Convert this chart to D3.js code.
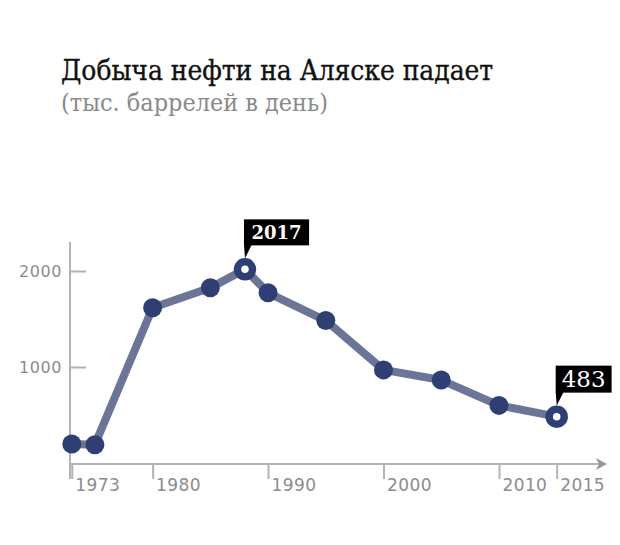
<!DOCTYPE html>
<html><head><meta charset="utf-8">
<script src="https://cdn.jsdelivr.net/npm/d3@7"></script>
<style>
body{margin:0;background:#fff;}
svg{display:block;}
</style></head>
<body>
<svg id="chart" width="620" height="545"></svg>
<script>
const title = "Добыча нефти на Аляске падает";
const subtitle = "(тыс. баррелей в день)";
const years = [1973, 1975, 1980, 1985, 1988, 1990, 1995, 2000, 2005, 2010, 2015];
const production = [198, 191, 1617, 1825, 2017, 1773, 1484, 970, 864, 600, 483];
const xTicks = [1973, 1980, 1990, 2000, 2010, 2015];
const yTicks = [1000, 2000];
const highlightYears = [1988, 2015];
const highlightLabels = ["2017", "483"];

const svg = d3.select("#chart");
const x = d3.scaleLinear().domain([1973, 2015]).range([71.8, 556.7]);
const y = d3.scaleLinear().domain([0, 2000]).range([463, 271]);

const grey = "#b3b3b3", labelGrey = "#8c8c8c";
const lineCol = "#6b7598", dotCol = "#2f3f73";

function fitText(sel, target, start) {
  let f = start;
  for (let i = 0; i < 4; i++) { const w = sel.node().getComputedTextLength(); f = f * target / w; sel.attr("font-size", f); }
}

// title
const t = svg.append("text").attr("x", 61).attr("y", 80)
  .attr("font-family", "'DejaVu Serif Condensed', 'DejaVu Serif', serif").attr("font-stretch", "condensed")
  .attr("font-size", 26).attr("fill", "#111").attr("stroke", "#111").attr("stroke-width", 0.35).text(title);
fitText(t, 432, 26);
const st = svg.append("text").attr("x", 61).attr("y", 111)
  .attr("font-family", "'DejaVu Serif Condensed', 'DejaVu Serif', serif").attr("font-stretch", "condensed")
  .attr("font-size", 20).attr("fill", "#8a8a8a").text(subtitle);
fitText(st, 267, 20);

// axes lines
svg.append("line").attr("x1", 70).attr("x2", 70).attr("y1", 242).attr("y2", 479)
  .attr("stroke", grey).attr("stroke-width", 2);
svg.append("line").attr("x1", 70).attr("x2", 600).attr("y1", 464).attr("y2", 464)
  .attr("stroke", grey).attr("stroke-width", 2);
svg.append("path").attr("d", "M596,458 L607,464 L596,470 L599,464 Z").attr("fill", "#999");

// y axis
const yAxis = svg.append("g").attr("transform", "translate(70,0)")
  .call(d3.axisLeft(y).tickValues(yTicks).tickSizeInner(-16).tickSizeOuter(0).tickPadding(8).tickFormat(d3.format("d")));
yAxis.select(".domain").remove();
yAxis.selectAll(".tick line").attr("stroke", grey).attr("stroke-width", 2);
yAxis.selectAll(".tick text").attr("font-family", "'DejaVu Sans', sans-serif").attr("font-size", 16)
  .attr("fill", labelGrey).attr("letter-spacing", 0.6);

// x axis
const xAxis = svg.append("g").attr("transform", "translate(0,464)")
  .call(d3.axisBottom(x).tickValues(xTicks).tickSizeInner(15).tickSizeOuter(0).tickPadding(3).tickFormat(d3.format("d")));
xAxis.select(".domain").remove();
xAxis.selectAll(".tick line").attr("stroke", grey).attr("stroke-width", 2);
xAxis.selectAll(".tick text").attr("text-anchor", "start").attr("dx", 3).attr("dy", "0.55em")
  .attr("font-family", "'DejaVu Sans', sans-serif").attr("font-size", 17)
  .attr("fill", labelGrey).attr("letter-spacing", 0.4);

// line
const data = years.map((yr, i) => ({yr, v: production[i]}));
svg.append("path").datum(data)
  .attr("d", d3.line().x(d => x(d.yr)).y(d => y(d.v)))
  .attr("fill", "none").attr("stroke", lineCol).attr("stroke-width", 8).attr("stroke-linejoin", "round");

// dots
svg.selectAll("circle.dot").data(data.filter(d => !highlightYears.includes(d.yr))).enter()
  .append("circle").attr("class", "dot")
  .attr("cx", d => x(d.yr)).attr("cy", d => y(d.v)).attr("r", 9.5).attr("fill", dotCol);

// highlighted
const hl = data.filter(d => highlightYears.includes(d.yr));
svg.selectAll("circle.hl").data(hl).enter().append("circle").attr("class", "hl")
  .attr("cx", d => x(d.yr)).attr("cy", d => y(d.v)).attr("r", 7.5)
  .attr("fill", "#fff").attr("stroke", dotCol).attr("stroke-width", 7.5);

// callouts
hl.forEach((d, i) => {
  const px = x(d.yr), py = y(d.v);
  const label = highlightLabels[i];
  const g = svg.append("g");
  const txt = g.append("text")
    .attr("font-family", "'DejaVu Serif', serif")
    .attr("font-weight", i === 0 ? "bold" : "normal")
    .attr("font-size", i === 0 ? 18 : 23)
    .attr("fill", "#fff").text(label);
  const w = txt.node().getComputedTextLength();
  const bw = w + (i === 0 ? 15 : 12), bh = i === 0 ? 26 : 27;
  const bx = px - 1, by = py - 24 - bh;
  g.insert("rect", "text").attr("x", bx).attr("y", by).attr("width", bw).attr("height", bh).attr("fill", "#000");
  g.insert("path", "text").attr("d", `M${bx},${by + bh - 1} L${bx + 8},${by + bh - 1} L${bx + 1},${py - 11} Z`).attr("fill", "#000");
  txt.attr("x", bx + bw / 2).attr("y", by + bh / 2).attr("text-anchor", "middle").attr("dy", "0.36em");
});
</script>
</body></html>
